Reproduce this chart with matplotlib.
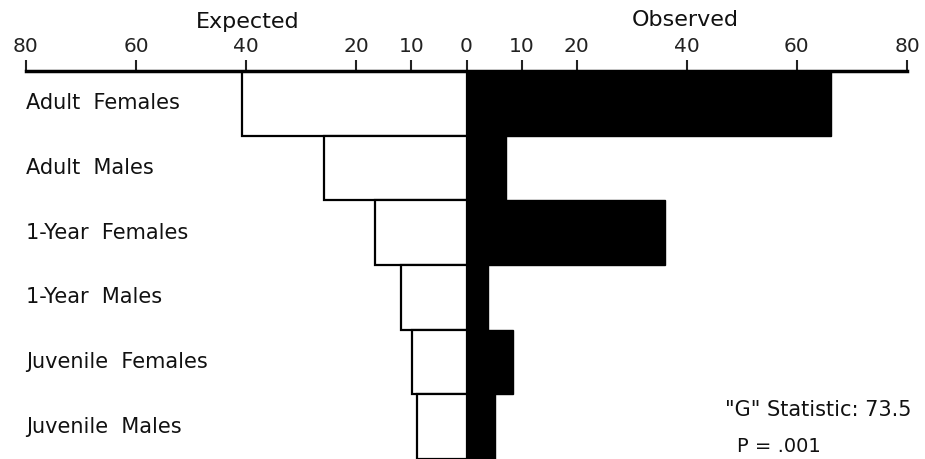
import matplotlib.pyplot as plt
import numpy as np

groups = ["Adult  Females", "Adult  Males", "1-Year  Females", "1-Year  Males",
          "Juvenile  Females", "Juvenile  Males"]
expected = [40.8, 25.8, 16.7, 11.9, 9.9, 9.0]
observed = [66.2, 7.1, 36.0, 3.9, 8.4, 5.1]
tick_vals = [-80, -60, -40, -20, -10, 0, 10, 20, 40, 60, 80]

W, H = 925, 459
fig = plt.figure(figsize=(W / 100, H / 100), dpi=100)
# axes spans 80 (left) .. 80 (right), top line sits at y=71px
ax = fig.add_axes([26 / W, 0, (907 - 26) / W, 1 - 71 / H])

y = np.arange(len(groups))
ax.barh(y, -np.array(expected), height=1.0, color="white", edgecolor="black", linewidth=1.6)
ax.barh(y, observed, height=1.0, color="black", edgecolor="black", linewidth=1.0)

ax.set_xlim(-80, 80)
ax.set_ylim(len(groups) - 0.5, -0.5)

for s in ["left", "right", "bottom"]:
    ax.spines[s].set_visible(False)
ax.spines["top"].set_linewidth(2.5)
ax.xaxis.set_ticks_position("top")
ax.set_xticks(tick_vals)
ax.set_xticklabels([str(abs(v)) for v in tick_vals])
ax.tick_params(axis="x", direction="out", length=8, width=1.5, pad=3, labelsize=14.5,
               colors="#222222")
ax.set_yticks([])

for i, g in enumerate(groups):
    ax.text(-80, i, g, ha="left", va="center", fontsize=15, color="#111111")

fig.text(248 / W, 1 - 22 / H, "Expected", ha="center", va="center", fontsize=16, color="#111111")
fig.text(685 / W, 1 - 20 / H, "Observed", ha="center", va="center", fontsize=16, color="#111111")
fig.text(725 / W, 1 - 410 / H, '"G" Statistic: 73.5', ha="left", va="center", fontsize=15,
         color="#111111")
fig.text(737 / W, 1 - 446 / H, "P = .001", ha="left", va="center", fontsize=14, color="#111111")

fig.savefig("out.png", dpi=100)
